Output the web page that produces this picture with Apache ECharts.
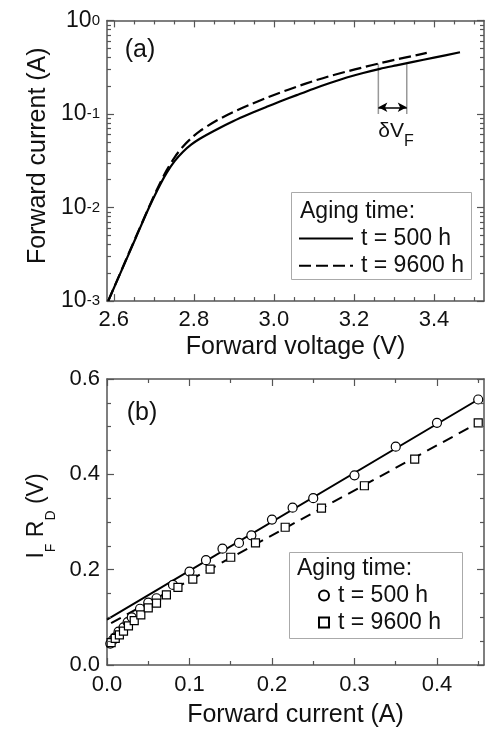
<!DOCTYPE html>
<html><head><meta charset="utf-8">
<script src="https://cdn.jsdelivr.net/npm/echarts@6/dist/echarts.min.js"></script>
<style>html,body{margin:0;padding:0;background:#fff}#c{width:489px;height:731px}</style>
</head><body><div id="c"></div>
<script>
// ---------- Panel (a): I-V curves ----------
const voltage500 = [2.586,2.62,2.655,2.688,2.71,2.732,2.752,2.773,2.794,2.815,2.857,2.898,2.94,2.982,3.015,3.057,3.098,3.14,3.182,3.223,3.265,3.306,3.348,3.4,3.465];
const current500 = [0.001,0.002153,0.004742,0.01,0.0157,0.02344,0.03133,0.03954,0.04732,0.05445,0.06839,0.08375,0.1007,0.1194,0.1358,0.1592,0.1854,0.2143,0.2455,0.2748,0.3041,0.3311,0.3606,0.4009,0.4571];
const voltage9600 = [2.586,2.62,2.655,2.688,2.71,2.732,2.752,2.773,2.794,2.815,2.857,2.898,2.94,2.982,3.015,3.057,3.098,3.14,3.182,3.223,3.265,3.306,3.348,3.382];
const current9600 = [0.001,0.002173,0.004831,0.01016,0.0163,0.02495,0.03443,0.04498,0.05534,0.06561,0.08511,0.1047,0.1259,0.1489,0.1687,0.1959,0.2244,0.2547,0.2844,0.3155,0.3491,0.3828,0.4188,0.4498];
const xLabelsA = [2.6, 2.8, 3.0, 3.2, 3.4];
const xMinorA = [2.65,2.7,2.75,2.85,2.9,2.95,3.05,3.1,3.15,3.25,3.3,3.35,3.45,3.5];
const yTicksA = [0.001, 0.01, 0.1, 1];
const yMinorA = [0.002,0.003,0.004,0.005,0.006,0.007,0.008,0.009,0.02,0.03,0.04,0.05,0.06,0.07,0.08,0.09,0.2,0.3,0.4,0.5,0.6,0.7,0.8,0.9];
const xRangeA = [2.583, 3.525];
const yRangeA = [0.001, 1];
// delta V_F annotation
const dvfVoltages = [3.261, 3.332];
const dvfTops = [0.345, 0.34];
const dvfBottom = 0.1;
const dvfArrowCurrent = 0.118;
const dvfLabelPos = [3.305, 0.065];

// ---------- Panel (b): I_F R_D vs I_F ----------
const currentB500 = [0.004,0.007,0.01,0.014,0.02,0.025,0.03,0.04,0.05,0.06,0.08,0.1,0.12,0.14,0.16,0.175,0.2,0.225,0.25,0.3,0.35,0.4,0.45];
const irB500 = [0.045,0.052,0.058,0.07,0.079,0.09,0.1,0.118,0.131,0.14,0.168,0.196,0.22,0.244,0.256,0.272,0.305,0.33,0.35,0.398,0.458,0.508,0.557];
const currentB9600 = [0.005,0.01,0.015,0.02,0.026,0.033,0.041,0.05,0.06,0.072,0.086,0.104,0.125,0.15,0.18,0.216,0.26,0.312,0.373,0.45];
const irB9600 = [0.047,0.056,0.063,0.071,0.082,0.093,0.105,0.12,0.13,0.147,0.163,0.18,0.201,0.226,0.256,0.289,0.329,0.376,0.432,0.508];
const fit500X = [0, 0.45], fit500Y = [0.095, 0.557];
const fit9600X = [0.005, 0.45], fit9600Y = [0.088, 0.508];
const xLabelsB = [0, 0.1, 0.2, 0.3, 0.4];
const xMinorB = [0.05, 0.15, 0.25, 0.35, 0.45];
const yTicksB = [0, 0.2, 0.4, 0.6];
const yMinorB = [0.05, 0.1, 0.15, 0.25, 0.3, 0.35, 0.45, 0.5, 0.55];
const xRangeB = [0, 0.457];
const yRangeB = [0, 0.6];

const legendText = { a500: 't = 500 h', a9600: 't = 9600 h', b500: 't = 500 h', b9600: 't = 9600 h' };

const FONT = "'Liberation Sans', Arial, Helvetica, sans-serif";
const TXT = '#111';
const AXIS = '#555';
const pairs = (xs, ys) => xs.map((x, i) => [x, ys[i]]);

// plot-area sizes (px) used to convert tick lengths into data units
const GA = { left: 107, top: 16, width: 377, height: 285 };
const GB = { left: 107, top: 379, width: 377, height: 286 };
const MAJ = 7, MIN = 4;

function mkAxis(o) {
  const ax = {
    type: o.type || 'value',
    gridIndex: o.grid,
    position: o.pos,
    min: o.min, max: o.max,
    axisLine: { show: true, onZero: false, lineStyle: { color: AXIS, width: 1.5 } },
    axisTick: { show: false },
    splitLine: { show: false },
    axisLabel: { show: false }
  };
  if (o.type === 'log') ax.logBase = 10;
  if (o.interval != null) ax.interval = o.interval;
  if (o.label) ax.axisLabel = Object.assign({ show: true, color: TXT, fontSize: 22, fontFamily: FONT, margin: 8 }, o.label);
  if (o.name) {
    ax.name = o.name; ax.nameLocation = 'middle'; ax.nameGap = o.nameGap;
    if (o.nameRotate != null) ax.nameRotate = o.nameRotate;
    ax.nameTextStyle = Object.assign({ color: TXT, fontSize: 25, lineHeight: 25, fontFamily: FONT }, o.nameStyle || {});
  }
  return ax;
}

const fmt1 = v => (+v).toFixed(1);

const xAxis = [
  mkAxis({ grid: 0, pos: 'bottom', min: xRangeA[0], max: xRangeA[1],
           label: { customValues: xLabelsA, formatter: fmt1, margin: 8 },
           name: 'Forward voltage (V)', nameGap: 34 }),
  mkAxis({ grid: 0, pos: 'top', min: xRangeA[0], max: xRangeA[1] }),
  mkAxis({ grid: 1, pos: 'bottom', min: xRangeB[0], max: xRangeB[1],
           label: { customValues: xLabelsB, formatter: fmt1, margin: 9 },
           name: 'Forward current (A)', nameGap: 38 }),
  mkAxis({ grid: 1, pos: 'top', min: xRangeB[0], max: xRangeB[1] })
];

const logLabel = {
  margin: 7,
  formatter: v => '{b|10}{s|' + Math.round(Math.log10(v)) + '}',
  rich: {
    b: { fontSize: 23, lineHeight: 23, padding: [9, 0, 0, 0], verticalAlign: 'bottom', fontFamily: FONT, color: TXT },
    s: { fontSize: 15, lineHeight: 15, padding: [4, 0, 0, 0], verticalAlign: 'top', fontFamily: FONT, color: TXT }
  }
};

const yAxis = [
  mkAxis({ grid: 0, pos: 'left', type: 'log', min: yRangeA[0], max: yRangeA[1], label: logLabel,
           name: 'Forward current (A)', nameGap: 54, nameRotate: 90, nameStyle: { padding: [0, 0, 0, 10] } }),
  mkAxis({ grid: 0, pos: 'right', type: 'log', min: yRangeA[0], max: yRangeA[1] }),
  mkAxis({ grid: 1, pos: 'left', min: yRangeB[0], max: yRangeB[1], interval: 0.2,
           label: { formatter: fmt1, margin: 7 },
           name: '{m|I}{s|F}{m| R}{s|D}{m| (V)}', nameGap: 57, nameRotate: 90,
           nameStyle: { padding: [0, 0, 0, 12], rich: {
             m: { fontSize: 23, lineHeight: 23, verticalAlign: 'top', fontFamily: FONT, color: TXT },
             s: { fontSize: 14, lineHeight: 14, verticalAlign: 'top', padding: [19, 0, 0, 0], fontFamily: FONT, color: TXT }
           } } }),
  mkAxis({ grid: 1, pos: 'right', min: yRangeB[0], max: yRangeB[1], interval: 0.2 })
];

// ---- inward tick marks, drawn as short segments in each panel's data coordinates ----
const seg = (p, q) => [{ coord: p }, { coord: q }];
function ticksA() {
  const out = [];
  const dx = len => len * (xRangeA[1] - xRangeA[0]) / GA.width;
  const fy = len => Math.pow(10, len * Math.log10(yRangeA[1] / yRangeA[0]) / GA.height);
  const addX = (v, len) => {
    out.push(seg([v, yRangeA[0]], [v, yRangeA[0] * fy(len)]));
    out.push(seg([v, yRangeA[1]], [v, yRangeA[1] / fy(len)]));
  };
  const addY = (v, len) => {
    out.push(seg([xRangeA[0], v], [xRangeA[0] + dx(len), v]));
    out.push(seg([xRangeA[1], v], [xRangeA[1] - dx(len), v]));
  };
  xLabelsA.forEach(v => addX(v, MAJ)); xMinorA.forEach(v => addX(v, MIN));
  yTicksA.forEach(v => addY(v, MAJ)); yMinorA.forEach(v => addY(v, MIN));
  return out;
}
function ticksB() {
  const out = [];
  const dx = len => len * (xRangeB[1] - xRangeB[0]) / GB.width;
  const dy = len => len * (yRangeB[1] - yRangeB[0]) / GB.height;
  const addX = (v, len) => {
    out.push(seg([v, yRangeB[0]], [v, yRangeB[0] + dy(len)]));
    out.push(seg([v, yRangeB[1]], [v, yRangeB[1] - dy(len)]));
  };
  const addY = (v, len) => {
    out.push(seg([xRangeB[0], v], [xRangeB[0] + dx(len), v]));
    out.push(seg([xRangeB[1], v], [xRangeB[1] - dx(len), v]));
  };
  xLabelsB.forEach(v => addX(v, MAJ)); xMinorB.forEach(v => addX(v, MIN));
  yTicksB.forEach(v => addY(v, MAJ)); yMinorB.forEach(v => addY(v, MIN));
  return out;
}
const tickStyle = { symbol: 'none', silent: true, animation: false, label: { show: false },
  lineStyle: { color: AXIS, width: 1.2, type: 'solid' }, emphasis: { disabled: true } };

const series = [
  { name: 'a500', type: 'line', xAxisIndex: 0, yAxisIndex: 0, data: pairs(voltage500, current500),
    symbol: 'none', smooth: 0.3, lineStyle: { color: '#000', width: 2.2 }, itemStyle: { color: '#000' }, z: 3,
    markLine: Object.assign({ data: ticksA() }, tickStyle) },
  { name: 'a9600', type: 'line', xAxisIndex: 0, yAxisIndex: 0, data: pairs(voltage9600, current9600),
    symbol: 'none', smooth: 0.3, lineStyle: { color: '#000', width: 2.2, type: [12, 5] }, itemStyle: { color: '#000' }, z: 3 },
  { name: 'dvL', type: 'line', xAxisIndex: 0, yAxisIndex: 0,
    data: [[dvfVoltages[0], dvfBottom], [dvfVoltages[0], dvfTops[0]]],
    symbol: 'none', lineStyle: { color: '#999', width: 1.5 }, z: 2,
    markPoint: { symbol: 'circle', symbolSize: 0,
      data: [{ coord: dvfLabelPos }],
      label: { show: true, position: 'inside', formatter: '{d|δV}{f|F}',
        rich: {
          d: { fontSize: 21, lineHeight: 21, verticalAlign: 'top', fontFamily: FONT, color: TXT },
          f: { fontSize: 16, lineHeight: 16, verticalAlign: 'top', padding: [13, 0, 0, 0], fontFamily: FONT, color: TXT }
        } } } },
  { name: 'dvR', type: 'line', xAxisIndex: 0, yAxisIndex: 0,
    data: [[dvfVoltages[1], dvfBottom], [dvfVoltages[1], dvfTops[1]]],
    symbol: 'none', lineStyle: { color: '#999', width: 1.5 }, z: 2,
    markLine: { symbol: ['arrow', 'arrow'], symbolSize: [7, 9], silent: true,
      lineStyle: { color: '#000', width: 1.5, type: 'solid' }, label: { show: false },
      data: [[{ coord: [dvfVoltages[0], dvfArrowCurrent] }, { coord: [dvfVoltages[1], dvfArrowCurrent] }]] } },

  { name: 'fit500', type: 'line', xAxisIndex: 2, yAxisIndex: 2, data: pairs(fit500X, fit500Y),
    symbol: 'none', lineStyle: { color: '#000', width: 2 }, z: 3,
    markLine: Object.assign({ data: ticksB() }, tickStyle) },
  { name: 'fit9600', type: 'line', xAxisIndex: 2, yAxisIndex: 2, data: pairs(fit9600X, fit9600Y),
    symbol: 'none', lineStyle: { color: '#000', width: 2, type: [11, 7] }, z: 3 },
  { name: 'b500', type: 'scatter', xAxisIndex: 2, yAxisIndex: 2, data: pairs(currentB500, irB500),
    symbol: 'circle', symbolSize: 9, itemStyle: { color: '#fff', borderColor: '#000', borderWidth: 1.2, opacity: 1 }, z: 4 },
  { name: 'b9600', type: 'scatter', xAxisIndex: 2, yAxisIndex: 2, data: pairs(currentB9600, irB9600),
    symbol: 'rect', symbolSize: 8, itemStyle: { color: '#fff', borderColor: '#000', borderWidth: 1.2, opacity: 1 }, z: 4 }
];

const legendBase = {
  orient: 'vertical', padding: 0, itemGap: 4, selectedMode: false,
  formatter: n => legendText[n],
  textStyle: { fontSize: 23, lineHeight: 23, fontFamily: FONT, color: TXT, padding: [0, 0, 0, 3] }
};

const option = {
  animation: false,
  grid: [
    { left: GA.left, top: GA.top, width: GA.width, height: GA.height },
    { left: GB.left, top: GB.top, width: GB.width, height: GB.height }
  ],
  xAxis, yAxis, series,
  legend: [
    Object.assign({}, legendBase, { data: ['a500', 'a9600'], left: 298, top: 227, itemWidth: 54, itemHeight: 0.1, itemGap: 4.3 }),
    Object.assign({}, legendBase, { data: ['b500', 'b9600'], left: 318, top: 584, itemWidth: 10, itemHeight: 10,
      textStyle: Object.assign({}, legendBase.textStyle, { padding: [0, 0, 0, 4] }) })
  ],
  graphic: [
    { type: 'rect', shape: { x: 291.5, y: 192.5, width: 180, height: 87 }, style: { fill: 'none', stroke: '#aaa', lineWidth: 1 }, silent: true },
    { type: 'text', x: 300, y: 212, style: { text: 'Aging time:', font: "23px " + FONT, fill: TXT, verticalAlign: 'middle' }, silent: true },
    { type: 'rect', shape: { x: 289.5, y: 552.5, width: 173, height: 86 }, style: { fill: 'none', stroke: '#aaa', lineWidth: 1 }, silent: true },
    { type: 'text', x: 297, y: 569, style: { text: 'Aging time:', font: "23px " + FONT, fill: TXT, verticalAlign: 'middle' }, silent: true },
    { type: 'text', x: 140, y: 50, style: { text: '(a)', font: "25px " + FONT, fill: TXT, align: 'center', verticalAlign: 'middle' }, silent: true },
    { type: 'text', x: 142, y: 413, style: { text: '(b)', font: "25px " + FONT, fill: TXT, align: 'center', verticalAlign: 'middle' }, silent: true }
  ]
};

const chart = echarts.init(document.getElementById('c'));
chart.setOption(option);
</script>
</body></html>
